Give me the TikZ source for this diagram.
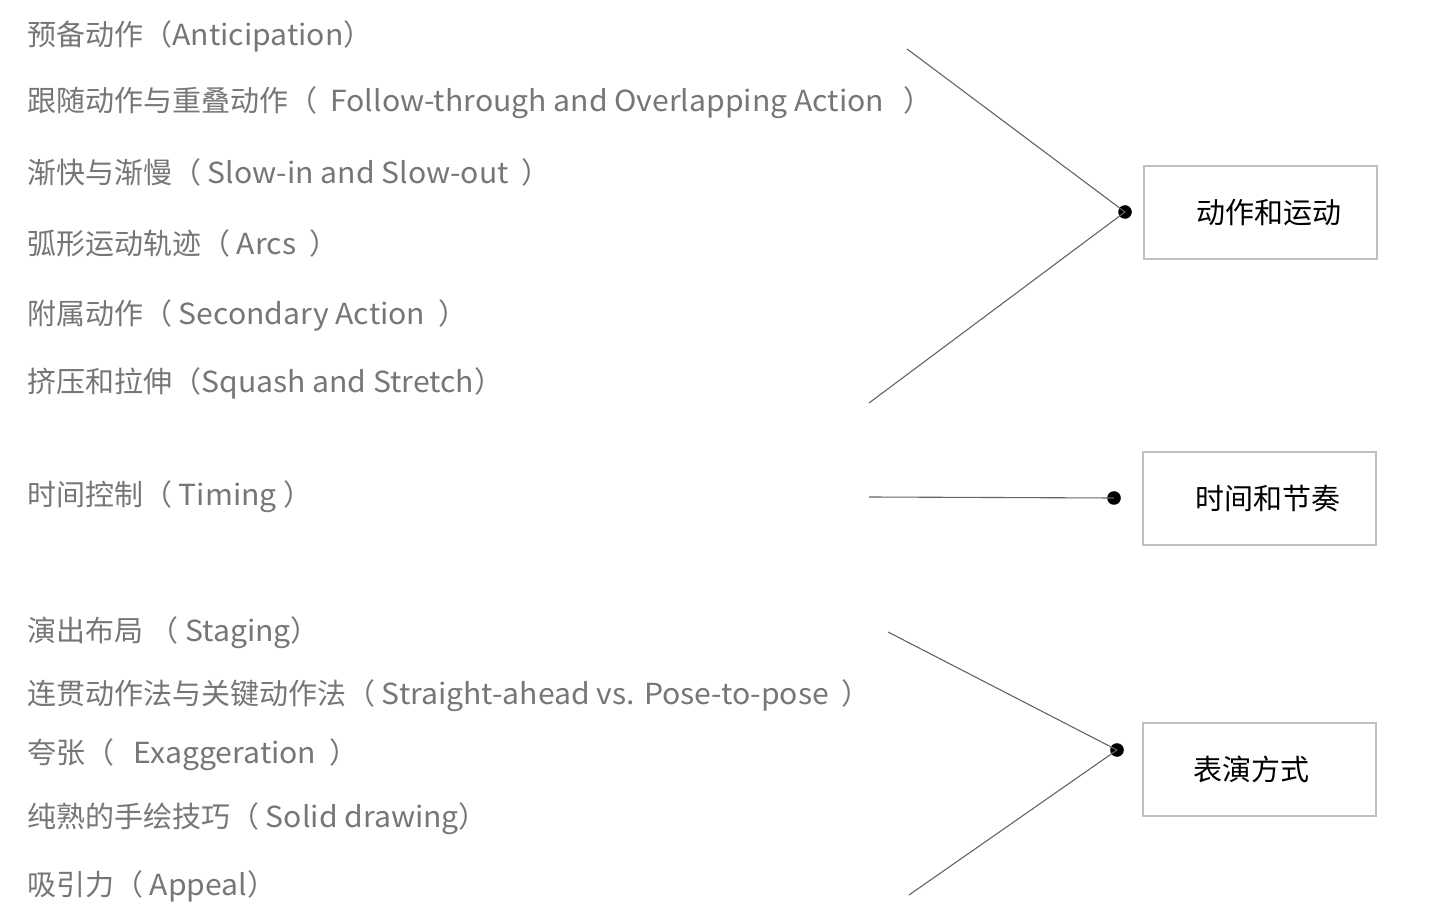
\documentclass[tikz,border=0pt]{standalone}
\usepackage{fontspec}
\setmainfont{Noto Sans CJK SC}
\newfontfamily\latinfont{Noto Sans CJK SC}[FakeStretch=1.04]
\newcommand{\en}[1]{{\latinfont #1}}
\usetikzlibrary{positioning}

\definecolor{itemgray}{RGB}{118,118,118}
\definecolor{boxgray}{RGB}{191,191,191}
\definecolor{linegray}{RGB}{100,100,100}

\begin{document}
\begin{tikzpicture}[x=0.5pt, y=-0.5pt]
	\tikzset{item/.style={anchor=west, inner sep=0pt, text=itemgray, font=\fontsize{14.5}{17}\selectfont, text height=12.8pt, text depth=1.7pt},
		catbox/.style={draw=boxgray, line width=1pt, minimum width=116.5pt, minimum height=46.5pt, inner sep=0pt},
		cattext/.style={inner sep=0pt, font=\fontsize{14.5}{17}\selectfont, text height=12.8pt, text depth=1.7pt},
		dot/.style={circle, fill=black, inner sep=0pt, minimum size=6.8pt},
		link/.style={draw=linegray, line width=0.55pt} }

	\useasboundingbox (0,0) rectangle (1447,919);

	% principles
	\node[item] (ant) at (27,34) {预备动作（\en{Anticipation}）};
	\node[item] (fol) at (27,100) {跟随动作与重叠动作（\ \ \en{Follow-through and Overlapping Action}\ \ \ ）};
	\node[item] (slo) at (27,172) {渐快与渐慢（\ \en{Slow-in and Slow-out}\ \ ）};
	\node[item] (arc) at (27,243) {弧形运动轨迹（\ \en{Arcs}\ \ ）};
	\node[item] (sec) at (27,313) {附属动作（\ \en{Secondary Action}\ \ ）};
	\node[item] (squ) at (27,381) {挤压和拉伸（\en{Squash and Stretch}）};
	\node[item] (tim) at (27,494) {时间控制（\ \en{Timing}\ ）};
	\node[item] (sta) at (27,630) {演出布局\ （\ \en{Staging}）};
	\node[item] (pos) at (27,693) {连贯动作法与关键动作法（\ \en{Straight-ahead vs. Pose-to-pose}\ \ ）};
	\node[item] (exa) at (27,752) {夸张（\ \ \ \en{Exaggeration}\ \ ）};
	\node[item] (sol) at (27,816) {纯熟的手绘技巧（\ \en{Solid drawing}）};
	\node[item] (app) at (27,884) {吸引力（\ \en{Appeal}）};

	% categories
	\node[catbox] (motion) at (1260.5,212.5) {};
	\node[cattext, right=26.5pt of motion.west] (motiontxt) {动作和运动};
	\node[catbox] (timing) at (1259,498.5) {};
	\node[cattext, right=27pt of timing.west] (timingtxt) {时间和节奏};
	\node[catbox] (acting) at (1259,769) {};
	\node[cattext, right=26pt of acting.west] (actingtxt) {表演方式};

	% joints
	\node[dot] (d1) at (1125,212) {};
	\node[dot] (d2) at (1114,498) {};
	\node[dot] (d3) at (1117,750) {};

	\coordinate (a1) at (907,49);
	\coordinate (a2) at (869,403);
	\coordinate (b1) at (869,497);
	\coordinate (c1) at (888,632);
	\coordinate (c2) at (909,895);

	\draw[link] (a1) -- (d1.center) -- (a2);
	\draw[link] (b1) -- (d2.center);
	\draw[link] (c1) -- (d3.center) -- (c2);
\end{tikzpicture}
\end{document}
